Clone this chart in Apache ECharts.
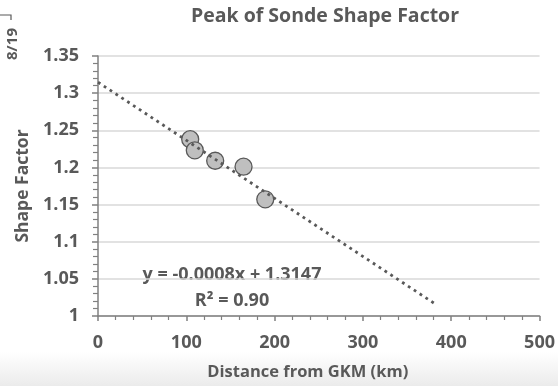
<!DOCTYPE html>
<html>
<head>
<meta charset="utf-8">
<script src="https://cdn.jsdelivr.net/npm/echarts@6/dist/echarts.min.js"></script>
<style>
  html, body { margin: 0; padding: 0; }
  body { background: linear-gradient(to bottom, #ffffff 0px, #ffffff 352px, #ebebeb 386px); }
  #chart { width: 558px; height: 386px; }
</style>
</head>
<body>
<div id="chart"></div>
<script>
// sonde peak shape factor vs distance
const distanceKm = [104.4, 109.6, 132.7, 164.8, 189.4];
const shapeFactor = [1.238, 1.223, 1.209, 1.201, 1.157];
// linear fit as drawn (y = -0.0008x + 1.3147)
const trendX = [0, 384];
const trendY = [1.3147, 1.0145];
const eqText = 'y = -0.0008x + 1.3147';
const r2Text = 'R² = 0.90';

const grey = '#595959';
const font = '"Open Sans"';

const chart = echarts.init(document.getElementById('chart'));

const option = {
  animation: false,
  textStyle: { fontFamily: font },
  title: {
    text: 'Peak of Sonde Shape Factor',
    left: 320,
    top: 1,
    textAlign: 'center',
    textStyle: { color: grey, fontSize: 19.5, fontWeight: 'bold', fontFamily: font }
  },
  grid: { left: 98, right: 13, top: 56, bottom: 70 },
  xAxis: {
    type: 'value',
    min: 0,
    max: 500,
    interval: 100,
    name: 'Distance from GKM (km)',
    nameLocation: 'middle',
    nameGap: 48,
    nameTextStyle: { color: grey, fontSize: 16.5, fontWeight: 'bold', fontFamily: font, padding: [0, 22, 0, 0] },
    axisLine: { show: true, lineStyle: { color: '#808080', width: 1.5 } },
    axisTick: { show: true, length: 5, lineStyle: { color: '#808080', width: 1.5 } },
    minorTick: { show: true, splitNumber: 5, length: 4, lineStyle: { color: '#808080', width: 1.2 } },
    axisLabel: { color: grey, fontSize: 18, fontWeight: 'bold', margin: 18, fontFamily: font },
    splitLine: { show: false }
  },
  yAxis: {
    type: 'value',
    min: 1,
    max: 1.35,
    interval: 0.05,
    name: 'Shape Factor',
    nameLocation: 'middle',
    nameGap: 64,
    nameTextStyle: { color: grey, fontSize: 17.5, fontWeight: 'bold', fontFamily: font },
    axisLine: { show: true, lineStyle: { color: '#808080', width: 1.5 } },
    axisTick: { show: true, length: 6, lineStyle: { color: '#808080', width: 1.5 } },
    minorTick: { show: true, splitNumber: 5, length: 5, lineStyle: { color: '#808080', width: 1.2 } },
    axisLabel: { color: grey, fontSize: 18, fontWeight: 'bold', margin: 19, fontFamily: font },
    splitLine: { show: true, lineStyle: { color: '#d9d9d9', width: 1.5 } }
  },
  series: [
    {
      type: 'scatter',
      data: distanceKm.map((d, i) => [d, shapeFactor[i]]),
      symbolSize: 17,
      itemStyle: { color: '#bfbfbf', borderColor: grey, borderWidth: 1.3, opacity: 1 },
      z: 2
    },
    {
      type: 'line',
      data: trendX.map((d, i) => [d, trendY[i]]),
      symbol: 'none',
      silent: true,
      lineStyle: { color: grey, width: 2.8, type: [2.8, 4.2] },
      z: 3
    }
  ],
  graphic: [
    {
      type: 'text',
      style: { text: eqText, x: 232, y: 275, align: 'center', verticalAlign: 'middle',
        fill: grey, font: 'bold 18px "Open Sans"' }
    },
    {
      type: 'text',
      style: { text: r2Text, x: 232, y: 301, align: 'center', verticalAlign: 'middle',
        fill: grey, font: 'bold 18px "Open Sans"' }
    },
    {
      type: 'text',
      rotation: Math.PI / 2,
      x: 13, y: 44,
      style: { text: '8/19', x: 0, y: 0, align: 'center', verticalAlign: 'middle',
        fill: grey, font: 'bold 15px "Open Sans"' }
    },
    {
      type: 'polyline',
      shape: { points: [[0, 15], [11, 15], [11, 20]] },
      style: { stroke: grey, lineWidth: 1.2, fill: null }
    }
  ]
};

chart.setOption(option);
</script>
</body>
</html>
